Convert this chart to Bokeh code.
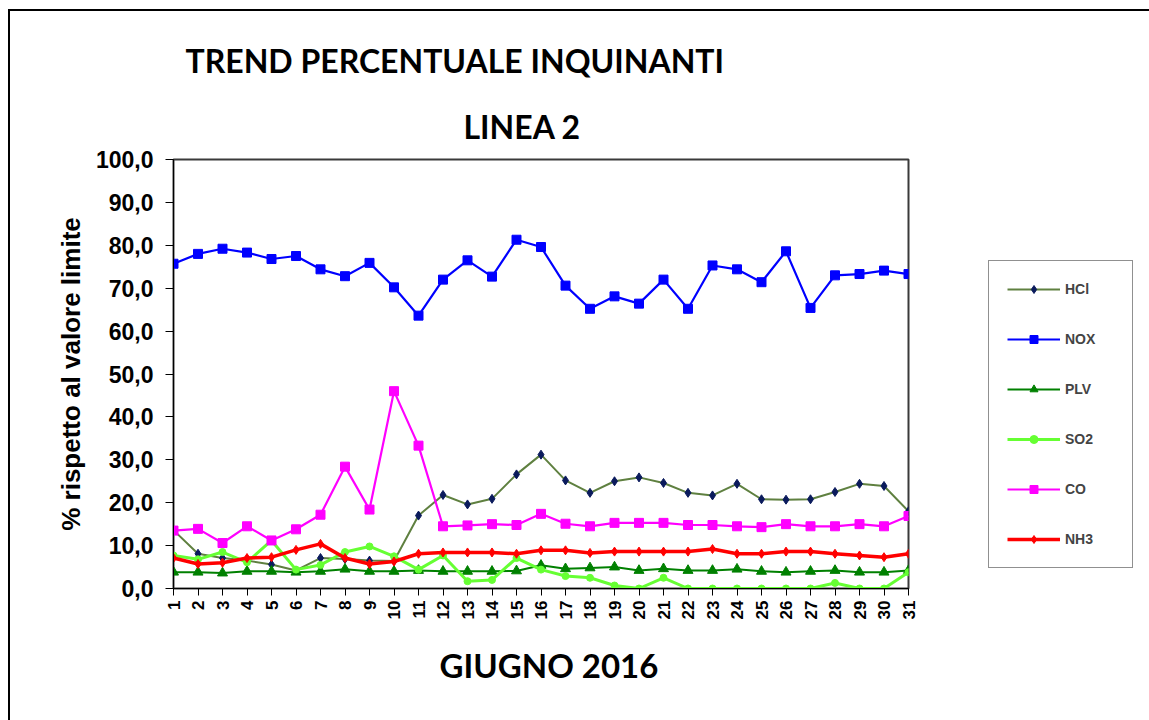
import math
from bokeh.plotting import figure
from bokeh.models import Legend, LegendItem, FixedTicker, Title
from bokeh.embed import file_html
from bokeh.resources import INLINE

days = list(range(1, 32))
hcl = [13.6, 8.1, 7.1, 6.5, 5.6, 4.2, 7.1, 6.9, 6.5, 6.4, 17.0, 21.8, 19.6, 20.9, 26.6, 31.2,
       25.2, 22.3, 25.0, 25.9, 24.6, 22.3, 21.7, 24.4, 20.8, 20.7, 20.8, 22.5, 24.4, 23.9, 18.0]
nox = [75.7, 78.0, 79.2, 78.3, 76.8, 77.5, 74.4, 72.8, 75.9, 70.2, 63.6, 72.0, 76.5, 72.7, 81.3, 79.6,
       70.6, 65.2, 68.1, 66.4, 72.0, 65.2, 75.3, 74.4, 71.4, 78.6, 65.4, 73.0, 73.3, 74.1, 73.3]
plv = [3.8, 3.8, 3.6, 4.0, 4.0, 3.8, 4.0, 4.5, 4.0, 4.0, 4.2, 4.0, 4.0, 4.0, 4.1, 5.4,
       4.6, 4.8, 5.0, 4.2, 4.6, 4.2, 4.2, 4.5, 4.0, 3.8, 4.0, 4.2, 3.8, 3.8, 4.2]
so2 = [7.7, 6.8, 8.5, 6.1, 11.2, 4.4, 5.5, 8.5, 9.8, 7.5, 4.4, 7.7, 1.7, 2.0, 7.1, 4.4,
       2.9, 2.5, 0.7, 0.0, 2.5, 0.0, 0.0, 0.0, 0.0, 0.0, 0.0, 1.3, 0.0, 0.0, 3.8]
co = [13.5, 13.9, 10.6, 14.5, 11.2, 13.8, 17.2, 28.4, 18.4, 46.0, 33.3, 14.5, 14.7, 15.0, 14.8, 17.4,
      15.1, 14.5, 15.3, 15.3, 15.3, 14.8, 14.8, 14.5, 14.3, 15.0, 14.5, 14.5, 15.0, 14.5, 16.9]
nh3 = [7.1, 5.7, 6.0, 7.1, 7.3, 9.0, 10.4, 7.1, 5.7, 6.3, 8.1, 8.4, 8.4, 8.4, 8.1, 8.9,
       8.9, 8.3, 8.6, 8.6, 8.6, 8.6, 9.2, 8.1, 8.1, 8.6, 8.6, 8.1, 7.7, 7.3, 8.1]

series_names = ["HCl", "NOX", "PLV", "SO2", "CO", "NH3"]
y_ticks = list(range(0, 101, 10))

p = figure(
    width=1149, height=720,
    frame_width=735, frame_height=429,
    min_border_left=173, min_border_right=241,
    min_border_top=159, min_border_bottom=132,
    x_range=(1, 31), y_range=(0, 100),
    output_backend="svg", toolbar_location=None,
)
# outer chart-area border (left and top edges visible in the window)
p.styles = {
    "background-color": "white",
    "background-image": "linear-gradient(#000000, #000000), linear-gradient(#000000, #000000)",
    "background-size": "2px 100%, 100% 2px",
    "background-position": "8px 9px, 8px 9px",
    "background-repeat": "no-repeat",
}
p.background_fill_color = "white"
p.border_fill_color = None
p.grid.visible = False
p.outline_line_color = "#3a3a3a"
p.outline_line_width = 2

# y axis
ya = p.yaxis[0]
ya.ticker = FixedTicker(ticks=y_ticks)
ya.major_label_overrides = {t: f"{t},0" for t in y_ticks}
ya.minor_tick_line_color = None
ya.major_tick_in = 0
ya.major_tick_out = 8
ya.major_label_standoff = 12
ya.major_label_text_font = "Liberation Sans"
ya.major_label_text_font_style = "bold"
ya.major_label_text_font_size = "23px"
ya.major_label_text_color = "black"
ya.axis_line_color = "black"
ya.major_tick_line_color = "black"
ya.axis_label = "% rispetto al valore limite"
ya.axis_label_text_font = "Liberation Sans"
ya.axis_label_text_font_style = "bold"
ya.axis_label_text_font_size = "26px"
ya.axis_label_text_color = "black"
ya.axis_label_standoff = 7

# x axis
xa = p.xaxis[0]
xa.ticker = FixedTicker(ticks=days)
xa.minor_tick_line_color = None
xa.major_tick_in = 0
xa.major_tick_out = 7
xa.major_label_standoff = 5
xa.major_label_orientation = math.pi / 2
xa.major_label_text_font = "Liberation Sans"
xa.major_label_text_font_style = "bold"
xa.major_label_text_font_size = "17px"
xa.major_label_text_color = "black"
xa.axis_line_color = "black"
xa.major_tick_line_color = "black"

styles = [
    (hcl, "#5f8040", 2, "diamond", "#0a1a5c", 9),
    (nox, "#0000ff", 2.2, "square", "#0000ff", 9),
    (plv, "#008000", 2, "triangle", "#008000", 10),
    (so2, "#66ff33", 3, "circle", "#66ff33", 7),
    (co, "#ff00ff", 2.2, "square", "#ff00ff", 9),
    (nh3, "#ff0000", 3.5, "diamond", "#ff0000", 9),
]

items = []
for name, (vals, lc, lw, mk, mc, ms) in zip(series_names, styles):
    r1 = p.line(days, vals, line_color=lc, line_width=lw)
    r2 = p.scatter(days, vals, marker=mk, size=ms, fill_color=mc, line_color=mc)
    items.append(LegendItem(label=name, renderers=[r1, r2]))

legend = Legend(items=items, location=(80, 20))
legend.padding = 18
legend.spacing = 30
legend.glyph_height = 20
legend.glyph_width = 53
legend.label_height = 20
legend.label_width = 49
legend.label_standoff = 5
legend.label_text_font = "Liberation Sans"
legend.label_text_font_style = "bold"
legend.label_text_font_size = "14px"
legend.border_line_color = "#222222"
legend.border_line_width = 1.5
legend.background_fill_color = "white"
legend.background_fill_alpha = 1
legend.margin = 45
p.add_layout(legend, "right")

p.add_layout(Title(text="LINEA 2", align="left", offset=290, standoff=27,
                   text_font="Lato", text_font_style="bold", text_font_size="32px",
                   text_color="black"), "above")
p.add_layout(Title(text="TREND PERCENTUALE  INQUINANTI", align="left", offset=12, standoff=24,
                   text_font="Lato", text_font_style="bold", text_font_size="32px",
                   text_color="black"), "above")
p.add_layout(Title(text="GIUGNO 2016", align="left", offset=266, standoff=41,
                   text_font="Lato", text_font_style="bold", text_font_size="33px",
                   text_color="black"), "below")

open("out.html", "w").write(file_html(p, INLINE))
